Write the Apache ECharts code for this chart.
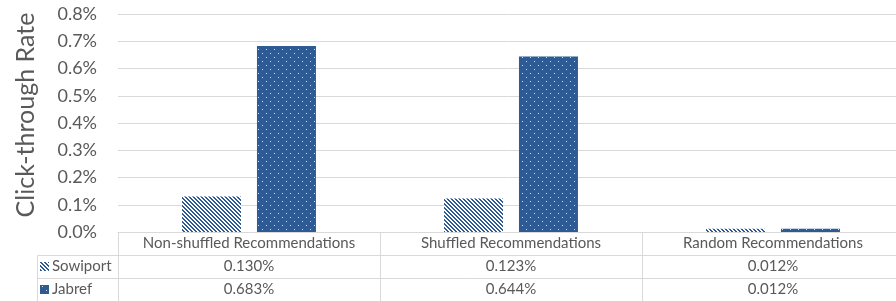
<!DOCTYPE html>
<html>
<head>
<meta charset="utf-8">
<script src="https://cdn.jsdelivr.net/npm/echarts@6/dist/echarts.min.js"></script>
<style>html,body{margin:0;padding:0;background:#fff;}#c{width:896px;height:301px;}</style>
</head>
<body>
<div id="c"></div>
<script>
const categories = ['Non-shuffled Recommendations', 'Shuffled Recommendations', 'Random Recommendations'];
const seriesNames = ['Sowiport', 'Jabref'];
const sowiport = [0.130, 0.123, 0.012];
const jabref = [0.683, 0.644, 0.012];
const yTicks = [0, 0.1, 0.2, 0.3, 0.4, 0.5, 0.6, 0.7, 0.8];

const BLUE = '#2f5b94';
const TXT = '#595959';
const LINE = '#d9d9d9';
const FONT = 'Lato, "Open Sans", sans-serif';

function hatch() {
  const c = document.createElement('canvas');
  c.width = 4; c.height = 4;
  const g = c.getContext('2d');
  g.fillStyle = '#ffffff'; g.fillRect(0, 0, 4, 4);
  g.fillStyle = BLUE;
  for (let i = 0; i < 4; i++) {
    g.fillRect(i, i, 1, 1);
    g.fillRect((i + 1) % 4, i, 1, 1);
  }
  return c;
}
function dots() {
  const c = document.createElement('canvas');
  c.width = 8; c.height = 8;
  const g = c.getContext('2d');
  g.fillStyle = BLUE; g.fillRect(0, 0, 8, 8);
  g.fillStyle = '#d6deea';
  g.fillRect(2, 1, 1, 1);
  g.fillRect(6, 5, 1, 1);
  return c;
}
const hatchFill = { image: hatch(), repeat: 'repeat' };
const dotFill = { image: dots(), repeat: 'repeat' };

const fmt = v => v.toFixed(3) + '%';
const GRID = { left: 118, width: 786, top: 14, bottom: 69, outerBoundsMode: 'none', containLabel: false };

const chart = echarts.init(document.getElementById('c'), null, { renderer: 'canvas' });

function tableAxis(data, offset) {
  return {
    type: 'category', data: data, position: 'bottom', offset: offset,
    axisLine: { show: false }, axisTick: { show: false },
    axisLabel: { color: TXT, fontSize: 15, fontFamily: FONT, margin: 4, interval: 0 }
  };
}
function legendItem(name, top) {
  return {
    left: 40, top: top, itemWidth: 9, itemHeight: 9, icon: 'rect', itemGap: 0,
    padding: 0,
    textStyle: { color: TXT, fontSize: 15, fontFamily: FONT, padding: [0, 0, 0, -2] },
    data: [name]
  };
}

chart.setOption({
  animation: false,
  grid: GRID,
  legend: [legendItem(seriesNames[0], 259), legendItem(seriesNames[1], 282)],
  xAxis: [
    {
      type: 'category', data: categories, position: 'bottom',
      axisLine: { show: true, lineStyle: { color: LINE } },
      axisTick: { show: false },
      axisLabel: { color: TXT, fontSize: 15, fontFamily: FONT, margin: 4, interval: 0 }
    },
    tableAxis(sowiport.map(fmt), 23),
    tableAxis(jabref.map(fmt), 46)
  ],
  yAxis: {
    type: 'value', min: 0, max: 0.8, interval: 0.1,
    name: 'Click-through Rate', nameLocation: 'middle', nameGap: 80,
    nameTextStyle: { color: TXT, fontSize: 25, fontFamily: FONT, padding: [0, 0, 0, 16] },
    axisLine: { show: false }, axisTick: { show: false },
    axisLabel: {
      color: TXT, fontSize: 18, fontFamily: FONT, margin: 21,
      formatter: v => {
        const t = yTicks.find(x => Math.abs(x - v) < 1e-9);
        return (t !== undefined ? t : v).toFixed(1) + '%';
      }
    },
    splitLine: { lineStyle: { color: LINE, width: 1 } }
  },
  series: [
    { name: seriesNames[0], type: 'bar', data: sowiport, barWidth: 59, barGap: '27%',
      itemStyle: { color: hatchFill } },
    { name: seriesNames[1], type: 'bar', data: jabref, barWidth: 59, barGap: '27%',
      itemStyle: { color: dotFill } }
  ]
});

// table borders
const W = GRID.left + GRID.width;
const cw = GRID.width / 3;
const lines = [];
const L = (x1, y1, x2, y2) => lines.push({ type: 'line', shape: { x1, y1, x2, y2 }, style: { stroke: LINE, lineWidth: 1 }, silent: true });
L(37.5, 255.5, W, 255.5);
L(37.5, 278.5, W, 278.5);
L(37.5, 255.5, 37.5, 301);
for (let i = 0; i < 3; i++) {
  const x = Math.round(GRID.left + i * cw) + 0.5;
  L(x, 232, x, 301);
}
chart.setOption({ graphic: lines });
</script>
</body>
</html>
